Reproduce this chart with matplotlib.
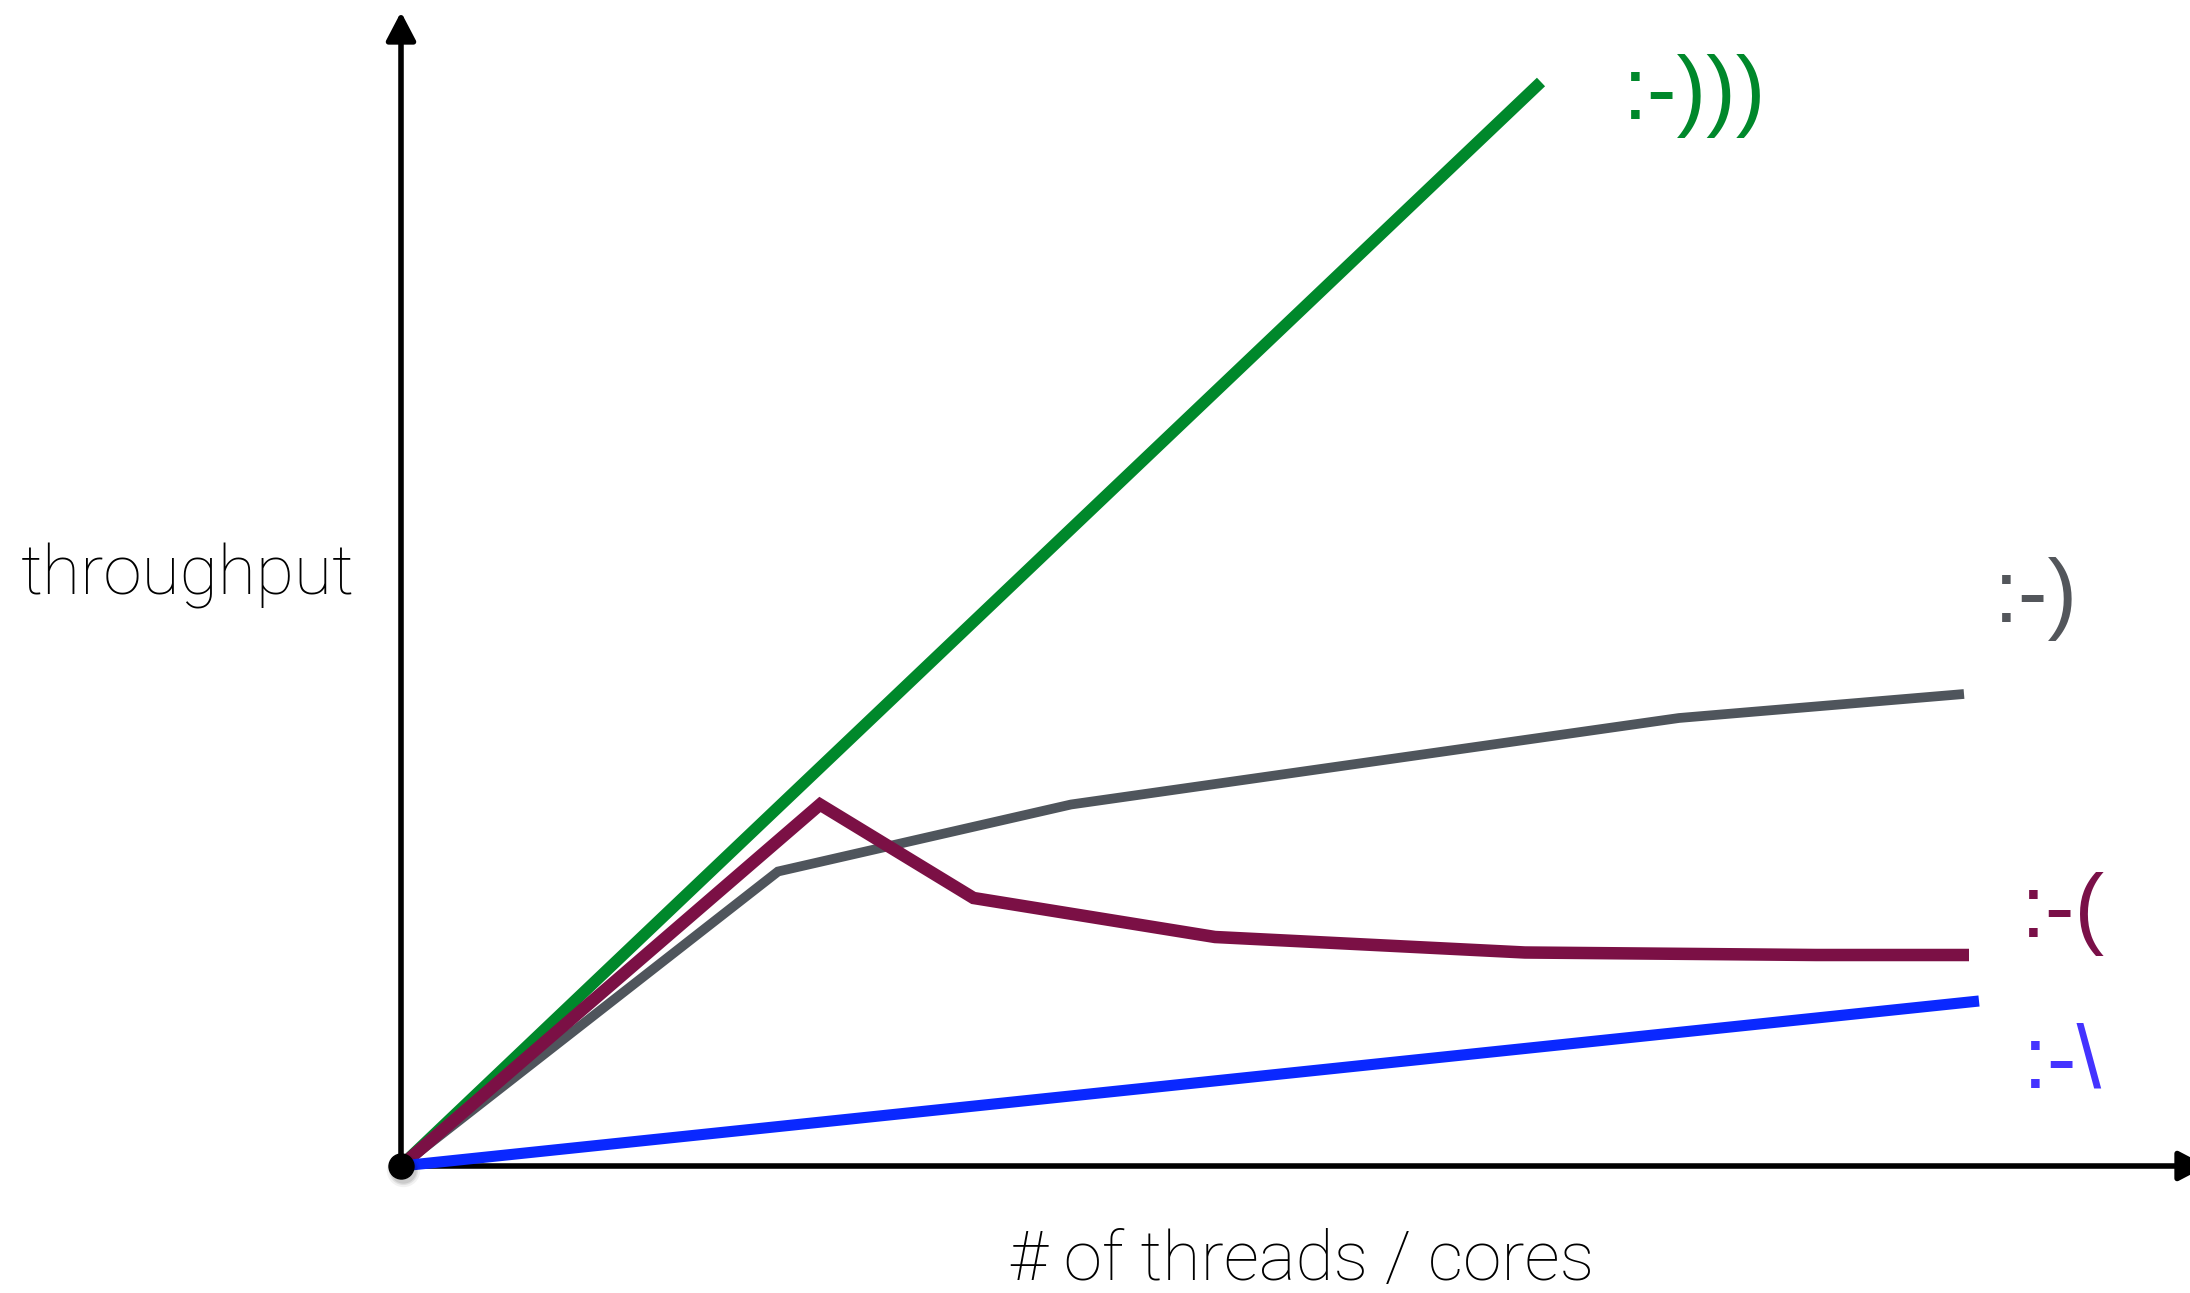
import matplotlib.pyplot as plt
from matplotlib import font_manager

# data in arbitrary units (origin at 0, 0)
green_x = [0, 11.40]
green_y = [0, 10.84]

gray_x = [0, 3.77, 6.70, 12.78, 15.63]
gray_y = [0, 2.945, 3.615, 4.48, 4.72]

purple_x = [0, 4.19, 5.725, 8.14, 11.24, 14.15, 15.68]
purple_y = [0, 3.615, 2.68, 2.29, 2.135, 2.11, 2.11]

blue_x = [0, 15.78]
blue_y = [0, 1.65]

labels = [":-)))", ":-)", ":-(", ":-\\"]
label_pos = [(12.22, 10.70), (15.93, 5.67), (16.20, 2.52), (16.22, 1.02)]
label_colors = ["#00882b", "#53565b", "#7a1048", "#4433ff"]

names = {f.name for f in font_manager.fontManager.ttflist}
axis_font = "Roboto" if "Roboto" in names else "DejaVu Sans"
face_font = "Liberation Sans" if "Liberation Sans" in names else "DejaVu Sans"

fig = plt.figure(figsize=(21.9, 12.93), dpi=100)
ax = fig.add_axes([0, 0, 1, 1])
ax.set_xlim(-4.01, 17.89)
ax.set_ylim(-1.27, 11.66)
ax.axis('off')

# axes with arrow heads
arrow = dict(arrowstyle='-|>,head_width=0.45,head_length=0.86',
             mutation_scale=20, lw=4, color='black', shrinkA=0, shrinkB=0)
ax.annotate('', xy=(0, 11.54), xytext=(0, 0), arrowprops=arrow, annotation_clip=False)
ax.annotate('', xy=(18.06, 0), xytext=(0, 0), arrowprops=arrow, annotation_clip=False)

ax.plot(green_x, green_y, color="#00882b", lw=8.5, solid_capstyle='butt', zorder=3)
ax.plot(gray_x, gray_y, color="#4f555c", lw=7, solid_capstyle='butt', solid_joinstyle='miter', zorder=3)
ax.plot(purple_x, purple_y, color="#7b1045", lw=9, solid_capstyle='butt', solid_joinstyle='miter', zorder=4)
ax.plot(blue_x, blue_y, color="#0a28ff", lw=8, solid_capstyle='butt', zorder=5)

# origin dot with soft shadow
for r, a in [(24, 0.05), (21, 0.07), (19, 0.09)]:
    ax.plot(0.02, -0.04, 'o', ms=r, color='black', alpha=a, mec='none', zorder=6)
ax.plot(0, 0, 'o', ms=18, color='black', zorder=7)

for txt, (x, y), c in zip(labels, label_pos, label_colors):
    ax.text(x, y, txt, color=c, fontsize=64, family=face_font, ha='left', va='center')

ax.text(-3.8, 5.9, "throughput", fontsize=50, family=axis_font, fontweight='light',
        ha='left', va='center')
ax.text(9.01, -0.95, "# of threads / cores", fontsize=50, family=axis_font, fontweight='light',
        ha='center', va='center')

fig.savefig("out.png", dpi=100)
